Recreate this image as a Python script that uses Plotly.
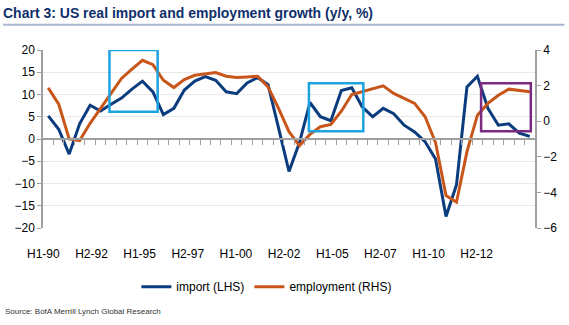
import plotly.graph_objects as go

# Half-yearly periods, H1-1990 .. H1-2013
periods = [f"H{h}-{y % 100:02d}" for y in range(1990, 2014) for h in (1, 2)][:47]

# Real import growth, y/y % (left axis)
imports = [5.2, 2.2, -3.4, 3.4, 7.6, 6.3, 7.8, 9.2, 11.2, 13.0,
           10.6, 5.5, 6.9, 11.0, 13.0, 14.0, 13.2, 10.6, 10.2, 12.6,
           13.8, 12.2, 2.5, -7.3, -0.8, 8.2, 5.0, 4.1, 10.9, 11.5,
           7.2, 5.0, 6.9, 5.7, 3.1, 1.6, -0.6, -4.5, -17.4, -10.3,
           11.7, 14.1, 6.9, 3.1, 3.4, 1.3, 0.6]

# Employment growth, y/y % (right axis)
employment = [1.87, 0.96, -1.0, -1.09, -0.12, 0.72, 1.5, 2.4, 2.92, 3.42,
              3.18, 2.3, 1.89, 2.34, 2.58, 2.64, 2.73, 2.53, 2.45, 2.49,
              2.53, 1.93, 0.72, -0.59, -1.37, -0.74, -0.31, -0.18, 0.56, 1.5,
              1.65, 1.84, 1.99, 1.56, 1.28, 1.0, 0.25, -1.2, -4.18, -4.55,
              -1.71, 0.34, 1.0, 1.46, 1.8, 1.74, 1.65]

tick_labels = ["H1-90", "H2-92", "H1-95", "H2-97", "H1-00",
               "H2-02", "H1-05", "H2-07", "H1-10", "H2-12"]

FONT = "Liberation Sans Narrow, Arial Narrow, Liberation Sans, Arial, sans-serif"
BLUE = "#0b3c7e"
ORANGE = "#c8561a"
CYAN = "#1da4e0"
PURPLE = "#7b2a82"
AXIS = "#a0a0a0"

idx = list(range(len(periods)))
label_pos = [-0.47 + 4.6 * k for k in range(len(tick_labels))]
boundaries = [k + 0.5 for k in range(len(periods) - 1)]
xrange = [-0.5, len(periods) - 0.5]

fig = go.Figure()
fig.add_trace(go.Scatter(x=idx, y=imports, name="import (LHS)", mode="lines",
                         line=dict(color=BLUE, width=3), customdata=periods,
                         xaxis="x", yaxis="y"))
fig.add_trace(go.Scatter(x=idx, y=employment, name="employment (RHS)", mode="lines",
                         line=dict(color=ORANGE, width=3), customdata=periods,
                         xaxis="x2", yaxis="y2"))

# highlighted episodes
boxes = [
    dict(x0=5.85, x1=10.45, y0=6.1, y1=20.0, color=CYAN),
    dict(x0=24.9, x1=30.1, y0=1.75, y1=12.55, color=CYAN),
    dict(x0=41.35, x1=46.1, y0=1.75, y1=12.55, color=PURPLE),
]
for b in boxes:
    fig.add_shape(type="rect", xref="x", yref="y", x0=b["x0"], x1=b["x1"],
                  y0=b["y0"], y1=b["y1"], line=dict(color=b["color"], width=2.5),
                  fillcolor="rgba(0,0,0,0)", layer="above")

# rule under the title
fig.add_shape(type="line", xref="paper", yref="paper",
              x0=-0.081, x1=1.06, y0=1.142, y1=1.142,
              line=dict(color="#a9b8cf", width=2))

fig.add_annotation(text="Source: BofA Merrill Lynch Global Research",
                   xref="paper", yref="paper", x=-0.082, y=-0.47,
                   xanchor="left", yanchor="middle", showarrow=False,
                   font=dict(family=FONT, size=8, color="#333333"))

fig.update_layout(
    width=569, height=325,
    margin=dict(l=43, r=34, t=50, b=97),
    paper_bgcolor="white", plot_bgcolor="white",
    font=dict(family=FONT, size=12, color="black"),
    title=dict(text="<b>Chart 3: US real import and employment growth (y/y, %)</b>",
               xref="container", yref="container", x=3 / 569, y=1 - 13 / 325,
               xanchor="left", yanchor="middle",
               font=dict(family=FONT, size=14, color="#0f2f6b")),
    showlegend=True,
    legend=dict(orientation="h", x=0.455, y=-0.33, xanchor="center", yanchor="middle",
                font=dict(family=FONT, size=12, color="black"),
                bgcolor="rgba(0,0,0,0)", itemwidth=30),
    xaxis=dict(range=xrange, tickmode="array", tickvals=label_pos, ticktext=tick_labels,
               ticks="", showline=False, showgrid=False, zeroline=False,
               ticklabelstandoff=17, tickfont=dict(size=12)),
    xaxis2=dict(range=xrange, overlaying="x", anchor="free", position=0.5, side="bottom",
                tickmode="array", tickvals=boundaries, showticklabels=False,
                ticks="outside", ticklen=5, tickcolor=AXIS, tickwidth=1,
                showline=True, linecolor=AXIS, linewidth=1.5,
                showgrid=False, zeroline=False),
    yaxis=dict(range=[-20, 20], dtick=5, tick0=0, showline=True, linecolor=AXIS,
               linewidth=1.5, ticks="outside", ticklen=4, tickcolor=AXIS,
               showgrid=True, gridcolor="#e9e9e9", gridwidth=1, zeroline=False,
               tickfont=dict(size=12)),
    yaxis2=dict(range=[-6, 4], dtick=2, tick0=0, overlaying="y", side="right",
                anchor="x", showline=True, linecolor=AXIS, linewidth=1.5,
                ticks="outside", ticklen=4, tickcolor=AXIS, showgrid=False,
                zeroline=False, tickfont=dict(size=12)),
)

fig.write_html("out.html")
